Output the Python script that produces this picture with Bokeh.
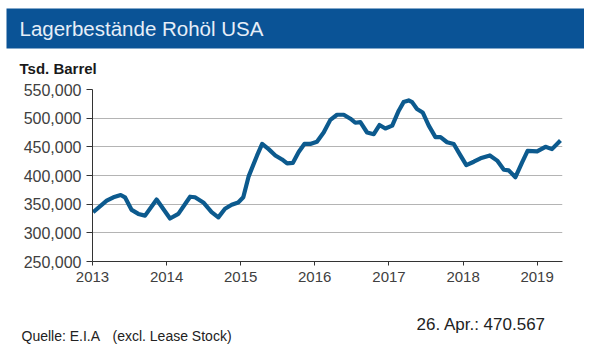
from datetime import datetime
import pandas as pd
from bokeh.plotting import figure
from bokeh.layouts import column
from bokeh.models import (Range1d, FixedTicker, NumeralTickFormatter, DatetimeTickFormatter,
                          Label, ColumnDataSource)
from bokeh.embed import file_html
from bokeh.resources import INLINE

# ---- data ----
title_text = "Lagerbestände Rohöl USA"
unit_text = "Tsd. Barrel"
source_text_a = "Quelle: E.I.A"
source_text_b = "(excl. Lease Stock)"
last_text = "26. Apr.: 470.567"

dates = [
    "2013-01-04", "2013-03-12", "2013-04-14", "2013-05-20", "2013-06-10", "2013-07-13", "2013-08-15", "2013-09-17", "2013-11-13",
    "2014-01-18", "2014-02-28", "2014-04-27", "2014-05-21", "2014-07-01", "2014-08-11", "2014-09-13", "2014-10-16", "2014-11-18", "2014-12-20",
    "2015-01-14", "2015-02-09", "2015-03-23", "2015-04-17", "2015-05-19", "2015-06-21", "2015-07-24", "2015-08-18", "2015-09-15", "2015-10-14", "2015-11-11", "2015-12-10",
    "2016-01-12", "2016-02-14", "2016-03-18", "2016-04-20", "2016-05-23", "2016-06-25", "2016-07-19", "2016-08-13", "2016-09-15", "2016-10-18", "2016-11-15", "2016-12-14",
    "2017-01-17", "2017-02-18", "2017-03-14", "2017-04-08", "2017-04-25", "2017-05-19", "2017-06-16", "2017-07-16", "2017-08-18", "2017-09-12", "2017-10-14", "2017-11-16", "2017-12-19",
    "2018-01-17", "2018-02-23", "2018-03-28", "2018-05-13", "2018-06-18", "2018-07-21", "2018-08-14", "2018-09-16", "2018-10-19", "2018-11-15",
    "2019-01-01", "2019-02-11", "2019-03-15", "2019-04-26",
]
stocks = [
    336000, 356000, 362000, 366000, 362000, 340000, 333000, 330000, 358000,
    325000, 333000, 363000, 362000, 353000, 336000, 327000, 342000, 349000, 353000,
    362000, 398000, 435000, 455000, 446000, 435000, 428000, 421000, 422000, 441000, 455000, 455000,
    459000, 475000, 497000, 506000, 506000, 499000, 492000, 493000, 475000, 472000, 488000, 482000,
    487000, 513000, 528000, 531000, 528000, 516000, 510000, 487000, 467000, 467000, 458000, 455000, 435000,
    418000, 424000, 430000, 435000, 426000, 410000, 409000, 397000, 423000, 443000,
    442000, 450000, 446000, 461000,
]
year_ticks = [2013, 2014, 2015, 2016, 2017, 2018, 2019]
y_ticks = [250000, 300000, 350000, 400000, 450000, 500000, 550000]

FONT = "Liberation Sans"
W = 584
H_HEAD, H_MAIN, H_FOOT = 78, 222, 46


def blank(height):
    f = figure(width=W, height=height, output_backend="svg", toolbar_location=None,
               x_axis_type=None, y_axis_type=None, min_border=0, frame_align=False,
               x_range=Range1d(0, W), y_range=Range1d(height, 0))
    f.outline_line_color = None
    f.background_fill_color = "white"
    f.border_fill_color = "white"
    f.grid.visible = False
    return f


# ---- header: title bar + unit ----
head = blank(H_HEAD)
head.quad(left=6, right=W, top=8, bottom=48, fill_color="#0a5396", line_color=None)
head.add_layout(Label(x=19, y=28, text=title_text, text_font=FONT, text_font_size="20.5px",
                      text_color="#e6eef8", text_baseline="middle"))
head.add_layout(Label(x=19, y=68, text=unit_text, text_font=FONT, text_font_size="15px",
                      text_font_style="bold", text_color="#1a1a1a", text_baseline="middle"))

# ---- main chart ----
src = ColumnDataSource(dict(date=pd.to_datetime(dates), value=stocks))
p = figure(width=W, height=H_MAIN, x_axis_type="datetime", output_backend="svg",
           toolbar_location=None, min_border_left=92, min_border_right=22,
           min_border_top=11, min_border_bottom=39, frame_align=False,
           x_range=Range1d(datetime(2013, 1, 1), datetime(2019, 5, 6)),
           y_range=Range1d(250000, 550000))
p.outline_line_color = None
p.background_fill_color = "white"
p.border_fill_color = "white"

tick_ms = [pd.Timestamp(f"{y}-01-01").value // 10**6 for y in year_ticks]
p.xaxis.ticker = FixedTicker(ticks=tick_ms)
p.xaxis.formatter = DatetimeTickFormatter(years="%Y", months="%Y", days="%Y", hours="%Y",
                                          minutes="%Y", seconds="%Y", milliseconds="%Y")
p.yaxis.ticker = FixedTicker(ticks=y_ticks)
p.yaxis.formatter = NumeralTickFormatter(format="0,0")

for ax in (p.xaxis, p.yaxis):
    ax.axis_line_color = "#333333"
    ax.axis_line_width = 1
    ax.major_tick_line_color = "#333333"
    ax.minor_tick_line_color = None
    ax.major_tick_in = 0
    ax.major_label_text_font = FONT
    ax.major_label_text_color = "#404040"
p.xaxis.major_label_text_font_size = "15px"
p.yaxis.major_label_text_font_size = "16px"
p.yaxis.major_tick_out = 6
p.yaxis.major_label_standoff = 5
p.xaxis.major_tick_out = 4
p.xaxis.major_label_standoff = 6

p.xgrid.grid_line_color = None
p.ygrid.grid_line_color = "#b4b4b4"
p.ygrid.grid_line_width = 1

p.line("date", "value", source=src, line_width=4.2, line_color="#0c5a8e", line_join="round")

# ---- footer ----
foot = blank(H_FOOT)
foot.add_layout(Label(x=416, y=24, text=last_text, text_font=FONT, text_font_size="17px",
                      text_color="#222222", text_baseline="middle"))
foot.add_layout(Label(x=21, y=35, text=source_text_a, text_font=FONT, text_font_size="14px",
                      text_color="#222222", text_baseline="middle"))
foot.add_layout(Label(x=112, y=35, text=source_text_b, text_font=FONT, text_font_size="14px",
                      text_color="#222222", text_baseline="middle"))

layout = column(head, p, foot, spacing=0)
open("out.html", "w").write(file_html(layout, INLINE))
